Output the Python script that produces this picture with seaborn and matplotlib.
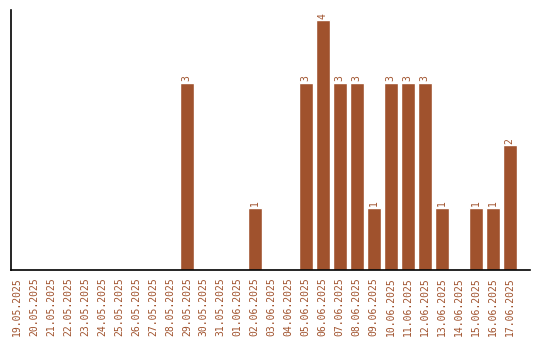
import matplotlib
matplotlib.use("Agg")
import matplotlib.pyplot as plt
import seaborn as sns
import pandas as pd

dates = ["19.05.2025", "20.05.2025", "21.05.2025", "22.05.2025", "23.05.2025",
         "24.05.2025", "25.05.2025", "26.05.2025", "27.05.2025", "28.05.2025",
         "29.05.2025", "30.05.2025", "31.05.2025", "01.06.2025", "02.06.2025",
         "03.06.2025", "04.06.2025", "05.06.2025", "06.06.2025", "07.06.2025",
         "08.06.2025", "09.06.2025", "10.06.2025", "11.06.2025", "12.06.2025",
         "13.06.2025", "14.06.2025", "15.06.2025", "16.06.2025", "17.06.2025"]
values = [0, 0, 0, 0, 0, 0, 0, 0, 0, 0,
          3, 0, 0, 0, 1, 0, 0, 3, 4, 3,
          3, 1, 3, 3, 3, 1, 0, 1, 1, 2]

color = "#a0522d"
df = pd.DataFrame({"date": dates, "value": values})

sns.set_style("white")
plt.rcParams['font.family'] = ['DejaVu Sans Mono', 'DejaVu Sans']

fig = plt.figure(figsize=(5.4, 3.4), dpi=100)
ax = fig.add_axes([11/540, 70/340, 519/540, 260/340])
sns.barplot(data=df, x="date", y="value", color=color, saturation=1, width=0.82, ax=ax)

labels = [str(v) if v else "" for v in values]
ax.bar_label(ax.containers[0], labels=labels, rotation=90, padding=1,
             fontsize=7, color=color)

ax.set_xlim(-0.35, 30.2)
ax.set_ylim(0, 4.16)
ax.set_xlabel("")
ax.set_ylabel("")
ax.set_yticks([])
ax.tick_params(axis="x", length=0, pad=5, labelsize=7, labelcolor=color, rotation=90)
for s in ["top", "right"]:
    ax.spines[s].set_visible(False)
for s in ["left", "bottom"]:
    ax.spines[s].set_color("black")
    ax.spines[s].set_linewidth(1.2)

fig.savefig("out.png", dpi=100)
